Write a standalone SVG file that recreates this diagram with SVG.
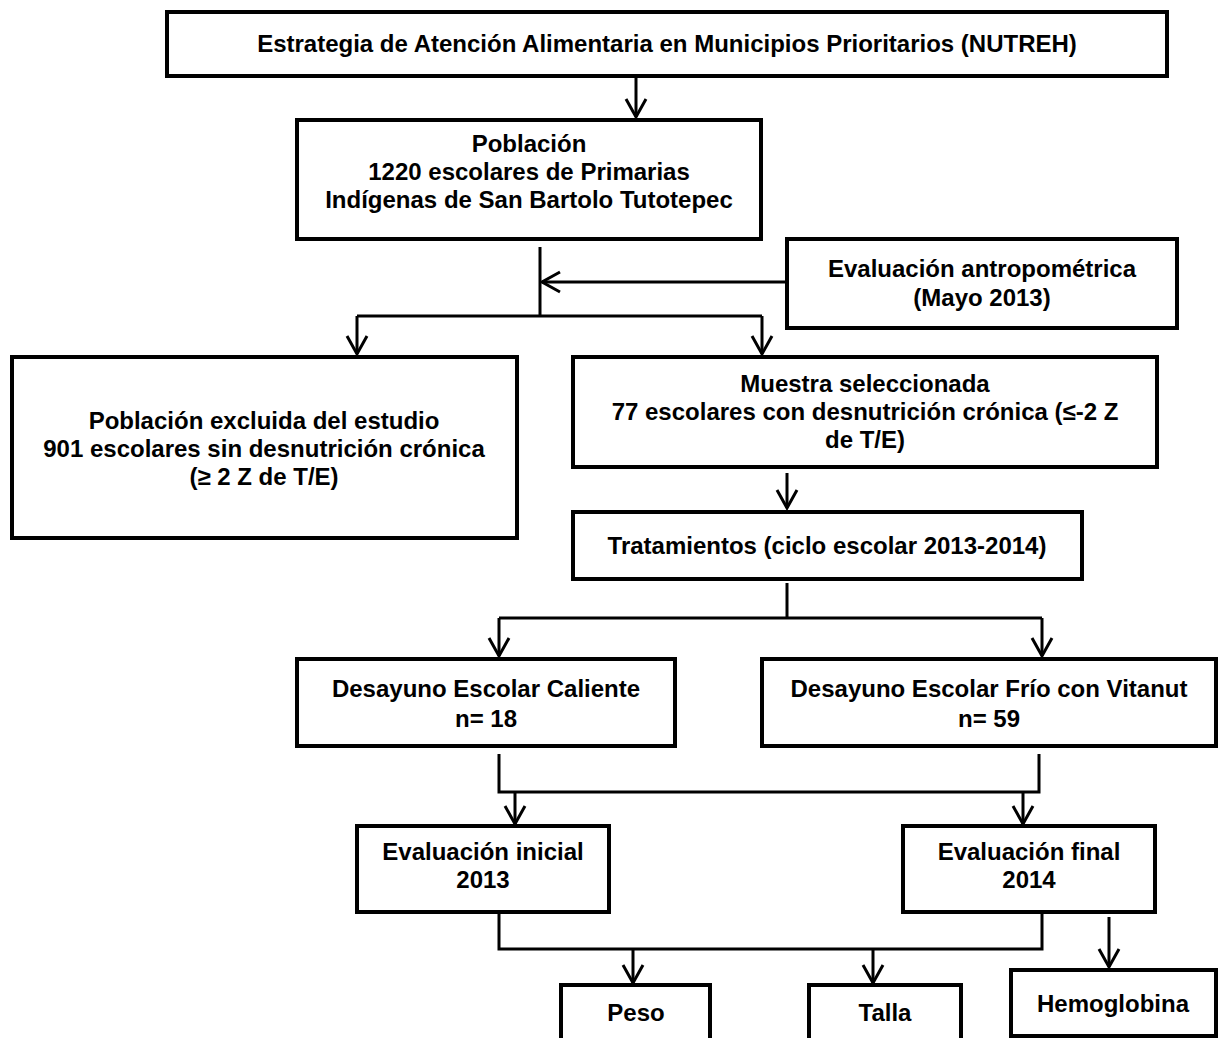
<svg xmlns="http://www.w3.org/2000/svg" width="1219" height="1038" viewBox="0 0 1219 1038">
<style>
.box{fill:#fff;stroke:#000;stroke-width:4}
.t{font-family:"Liberation Sans",Arial,sans-serif;font-weight:bold;font-size:24px;fill:#000;text-anchor:middle}
.c{fill:none;stroke:#000;stroke-width:3}
</style>
<defs>
<marker id="arr" markerUnits="userSpaceOnUse" markerWidth="30" markerHeight="30" viewBox="-22 -15 30 30" refX="0" refY="0" orient="auto" overflow="visible">
<path d="M-18,-10 L0,0 L-18,10" fill="none" stroke="#000" stroke-width="3"/>
</marker>
</defs>
<rect width="1219" height="1038" fill="#fff"/>
<g id="connectors" class="c">
<path d="M636,76 V117" marker-end="url(#arr)"/>
<path d="M540,247 V316"/>
<path d="M787,282 H542" marker-end="url(#arr)"/>
<path d="M357,316 H762"/>
<path d="M357,316 V354" marker-end="url(#arr)"/>
<path d="M762,316 V354" marker-end="url(#arr)"/>
<path d="M787,473 V508" marker-end="url(#arr)"/>
<path d="M787,583 V618"/>
<path d="M499,618 H1042"/>
<path d="M499,618 V656" marker-end="url(#arr)"/>
<path d="M1042,618 V656" marker-end="url(#arr)"/>
<path d="M499,754 V792 H1039 V754"/>
<path d="M515,792 V824" marker-end="url(#arr)"/>
<path d="M1023,792 V824" marker-end="url(#arr)"/>
<path d="M499,914 V949 H1042 V914"/>
<path d="M633,949 V983" marker-end="url(#arr)"/>
<path d="M873,949 V983" marker-end="url(#arr)"/>
<path d="M1109,917 V967" marker-end="url(#arr)"/>
</g>
<g id="n_estrategia">
<rect class="box" x="167" y="12" width="1000" height="64"/>
<text class="t" x="667" y="52">Estrategia de Atención Alimentaria en Municipios Prioritarios (NUTREH)</text>
</g>
<g id="n_poblacion">
<rect class="box" x="297" y="120" width="464" height="119"/>
<text class="t" x="529" y="152">Población</text>
<text class="t" x="529" y="180">1220 escolares de Primarias</text>
<text class="t" x="529" y="208">Indígenas de San Bartolo Tutotepec</text>
</g>
<g id="n_evaluacion_antropometrica">
<rect class="box" x="787" y="239" width="390" height="89"/>
<text class="t" x="982" y="277">Evaluación antropométrica</text>
<text class="t" x="982" y="306">(Mayo 2013)</text>
</g>
<g id="n_excluida">
<rect class="box" x="12" y="357" width="505" height="181"/>
<text class="t" x="264" y="429">Población excluida del estudio</text>
<text class="t" x="264" y="457">901 escolares sin desnutrición crónica</text>
<text class="t" x="264" y="485">(≥ 2 Z de T/E)</text>
</g>
<g id="n_muestra">
<rect class="box" x="573" y="357" width="584" height="110"/>
<text class="t" x="865" y="392">Muestra seleccionada</text>
<text class="t" x="865" y="420">77 escolares con desnutrición crónica (≤-2 Z</text>
<text class="t" x="865" y="448">de T/E)</text>
</g>
<g id="n_tratamientos">
<rect class="box" x="573" y="512" width="509" height="67"/>
<text class="t" x="827" y="554">Tratamientos (ciclo escolar 2013-2014)</text>
</g>
<g id="n_desayuno_caliente">
<rect class="box" x="297" y="659" width="378" height="87"/>
<text class="t" x="486" y="697">Desayuno Escolar Caliente</text>
<text class="t" x="486" y="727">n= 18</text>
</g>
<g id="n_desayuno_frio">
<rect class="box" x="762" y="659" width="454" height="87"/>
<text class="t" x="989" y="697">Desayuno Escolar Frío con Vitanut</text>
<text class="t" x="989" y="727">n= 59</text>
</g>
<g id="n_eval_inicial">
<rect class="box" x="357" y="826" width="252" height="86"/>
<text class="t" x="483" y="860">Evaluación inicial</text>
<text class="t" x="483" y="888">2013</text>
</g>
<g id="n_eval_final">
<rect class="box" x="903" y="826" width="252" height="86"/>
<text class="t" x="1029" y="860">Evaluación final</text>
<text class="t" x="1029" y="888">2014</text>
</g>
<g id="n_peso">
<rect class="box" x="561" y="985" width="149" height="70"/>
<text class="t" x="636" y="1021">Peso</text>
</g>
<g id="n_talla">
<rect class="box" x="809" y="985" width="152" height="70"/>
<text class="t" x="885" y="1021">Talla</text>
</g>
<g id="n_hemoglobina">
<rect class="box" x="1011" y="970" width="205" height="66"/>
<text class="t" x="1113" y="1012">Hemoglobina</text>
</g>
</svg>
